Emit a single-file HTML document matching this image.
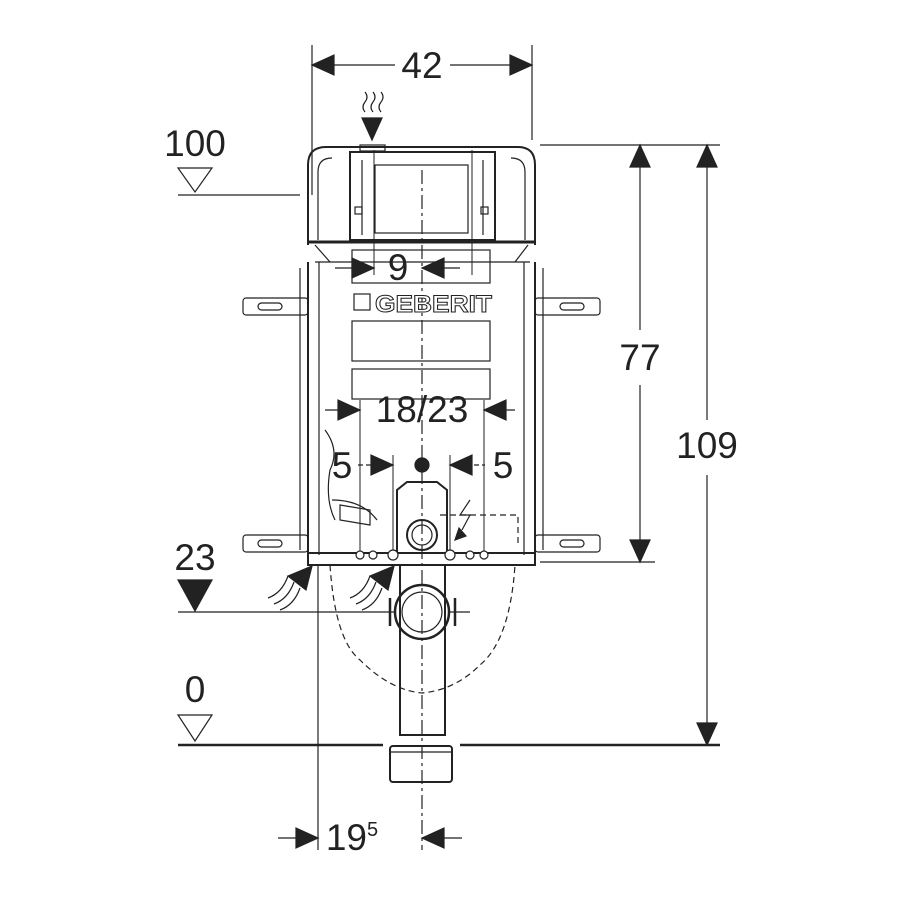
<!DOCTYPE html>
<html><head><style>body{margin:0;background:#fff}svg{display:block}</style></head><body>
<svg width="900" height="900" viewBox="0 0 900 900" xmlns="http://www.w3.org/2000/svg" font-family="Liberation Sans, sans-serif" fill="none" stroke="#222" stroke-width="1.5">
<g stroke="#222" stroke-width="1.2">
<line x1="312" y1="45" x2="312" y2="195"/><line x1="532" y1="45" x2="532" y2="140"/>
<path d="M312,65H395M450,65H532"/>
<path d="M312,65l22,-10v20z M532,65l-22,-10v20z" fill="#222"/>
<path d="M540,145H720M540,562H655"/>
<path d="M640,145V330M640,385V562M707,145V420M707,475V745"/>
<path d="M640,145l-10,22h20z M640,562l-10,-22h20z M707,145l-10,22h20z M707,745l-10,-22h20z" fill="#222"/>
<path d="M178,745H383M460,745H720" stroke-width="2.5"/>
<path d="M178,195H300"/><path d="M178,612H395M450,612H470"/>
<path d="M178,168h34l-17,24z M178,715h34l-17,26z" fill="#fff"/>
<path d="M178,580h34l-17,31z" fill="#222"/>
<path d="M308,245V165q0,-18,18,-18H518q17,0,17,18V245" stroke-width="2"/>
<path d="M318,240V172q0,-14,14,-14"/><path d="M525,240V172q0,-14,-14,-14"/>
<rect x="350" y="152" width="145" height="88" stroke-width="2"/>
<rect x="375" y="165" width="93" height="68"/>
<path d="M362,160V235M483,160V235"/>
<rect x="355" y="207" width="7" height="7"/><rect x="481" y="207" width="7" height="7"/>
<rect x="360" y="145" width="25" height="6"/>
<path d="M308,242H535" stroke-width="3"/>
<path d="M315,245L330,262M528,245L515,262"/>
<path d="M308,262V565H535V262" stroke-width="2"/>
<path d="M319,262V555M524,262V555" />
<path d="M315,262H530"/>
<path d="M308,553H535" stroke-width="2"/>
<path d="M300,268V550M543,268V550"/>
<rect x="352" y="250" width="138" height="33"/>
<rect x="352" y="321" width="138" height="40"/>
<rect x="352" y="369" width="138" height="30"/>
<rect x="354" y="294" width="16" height="16"/>
<rect x="243" y="298" width="65" height="17" rx="3"/><rect x="535" y="298" width="65" height="17" rx="3"/>
<rect x="243" y="535" width="65" height="17" rx="3"/><rect x="535" y="535" width="65" height="17" rx="3"/>
<rect x="258" y="303" width="24" height="7" rx="3.5"/><rect x="560" y="303" width="24" height="7" rx="3.5"/>
<rect x="258" y="540" width="24" height="7" rx="3.5"/><rect x="560" y="540" width="24" height="7" rx="3.5"/>
<path d="M422,170V850" stroke-dasharray="14,4,3,4"/>
<path d="M374,150V275M472,150V275" stroke-width="1"/>
<path d="M335,268h39M460,268h-38"/>
<path d="M374,268l-22,-10v20z M422,268l22,-10v20z" fill="#222"/>
<path d="M325,410h35M485,410h30"/>
<path d="M360,410l-22,-10v20z M484,410l22,-10v20z" fill="#222"/>
<path d="M360,400V553M484,400V553" stroke-width="1"/>
<path d="M393,455V553M450,455V553" stroke-width="1"/>
<path d="M358,465h35M450,465h35" stroke-dasharray="5,3"/>
<path d="M393,465l-22,-10v20z M450,465l22,-10v20z" fill="#222"/>
<circle cx="422" cy="465" r="7" fill="#222"/>
<path d="M397,553V490l10,-8h30l10,8V553" stroke-width="2"/>
<circle cx="422" cy="535" r="15" stroke-width="2"/><circle cx="422" cy="535" r="10"/>
<g fill="#fff"><circle cx="360" cy="555" r="4"/><circle cx="373" cy="555" r="4"/><circle cx="393" cy="555" r="5"/><circle cx="450" cy="555" r="5"/><circle cx="470" cy="555" r="4"/><circle cx="484" cy="555" r="4"/></g>
<path d="M440,515H518V545" stroke-dasharray="6,4"/>
<path d="M330,565Q335,640,360,660Q390,690,422,693Q455,690,480,665Q510,640,515,565" stroke-dasharray="6,4"/>
<path d="M400,565V735H445V565" stroke-width="2"/>
<circle cx="422" cy="612" r="27" stroke-width="2.5"/><circle cx="422" cy="612" r="20"/>
<path d="M390,598v28M455,598v28" stroke-width="2.5"/>
<rect x="390" y="746" width="62" height="36" rx="3" stroke-width="2"/>
<path d="M390,752H452"/>
<path d="M365,92q4,5,0,10t0,10M373,92q4,5,0,10t0,10M381,92q4,5,0,10t0,10"/>
<path d="M362,118h20l-10,22z" fill="#222"/>
<path d="M268,598q14,-5,20,-22M274,604q14,-5,20,-22M280,610q14,-5,20,-22"/><path d="M312,566l-6,24-18,-14z" fill="#222"/>
<path d="M350,598q14,-5,20,-22M356,604q14,-5,20,-22M362,610q14,-5,20,-22"/><path d="M394,566l-6,24-18,-14z" fill="#222"/>
<path d="M470,500l-10,15h10l-8,15"/><path d="M455,540l4,-12 7,8z" fill="#222"/>
<path d="M325,430q15,20,5,40q-5,30,5,50M332,500q30,0,45,20" />
<path d="M340,505l30,5v15l-30,-5z"/>
<path d="M318,565V850" /><path d="M278,838h40M422,838h40"/>
<path d="M318,838l-22,-10v20z M422,838l22,-10v20z" fill="#222"/>
</g>
<g fill="#222" stroke="none" font-size="37">
<text x="422" y="78" text-anchor="middle">42</text>
<text x="195" y="156" text-anchor="middle">100</text>
<text x="195" y="570" text-anchor="middle">23</text>
<text x="195" y="702" text-anchor="middle">0</text>
<text x="398" y="280" text-anchor="middle">9</text>
<text x="640" y="370" text-anchor="middle">77</text>
<text x="707" y="458" text-anchor="middle">109</text>
<text x="422" y="422" text-anchor="middle">18/23</text>
<text x="342" y="478" text-anchor="middle">5</text>
<text x="503" y="478" text-anchor="middle">5</text>
<text x="352" y="850" text-anchor="middle">19<tspan font-size="20" dy="-14">5</tspan></text>
<text x="375" y="312" font-size="24" font-weight="bold" fill="#fff" stroke="#222" stroke-width="1" textLength="117" lengthAdjust="spacingAndGlyphs">GEBERIT</text>
</g>
</svg>
</body></html>
